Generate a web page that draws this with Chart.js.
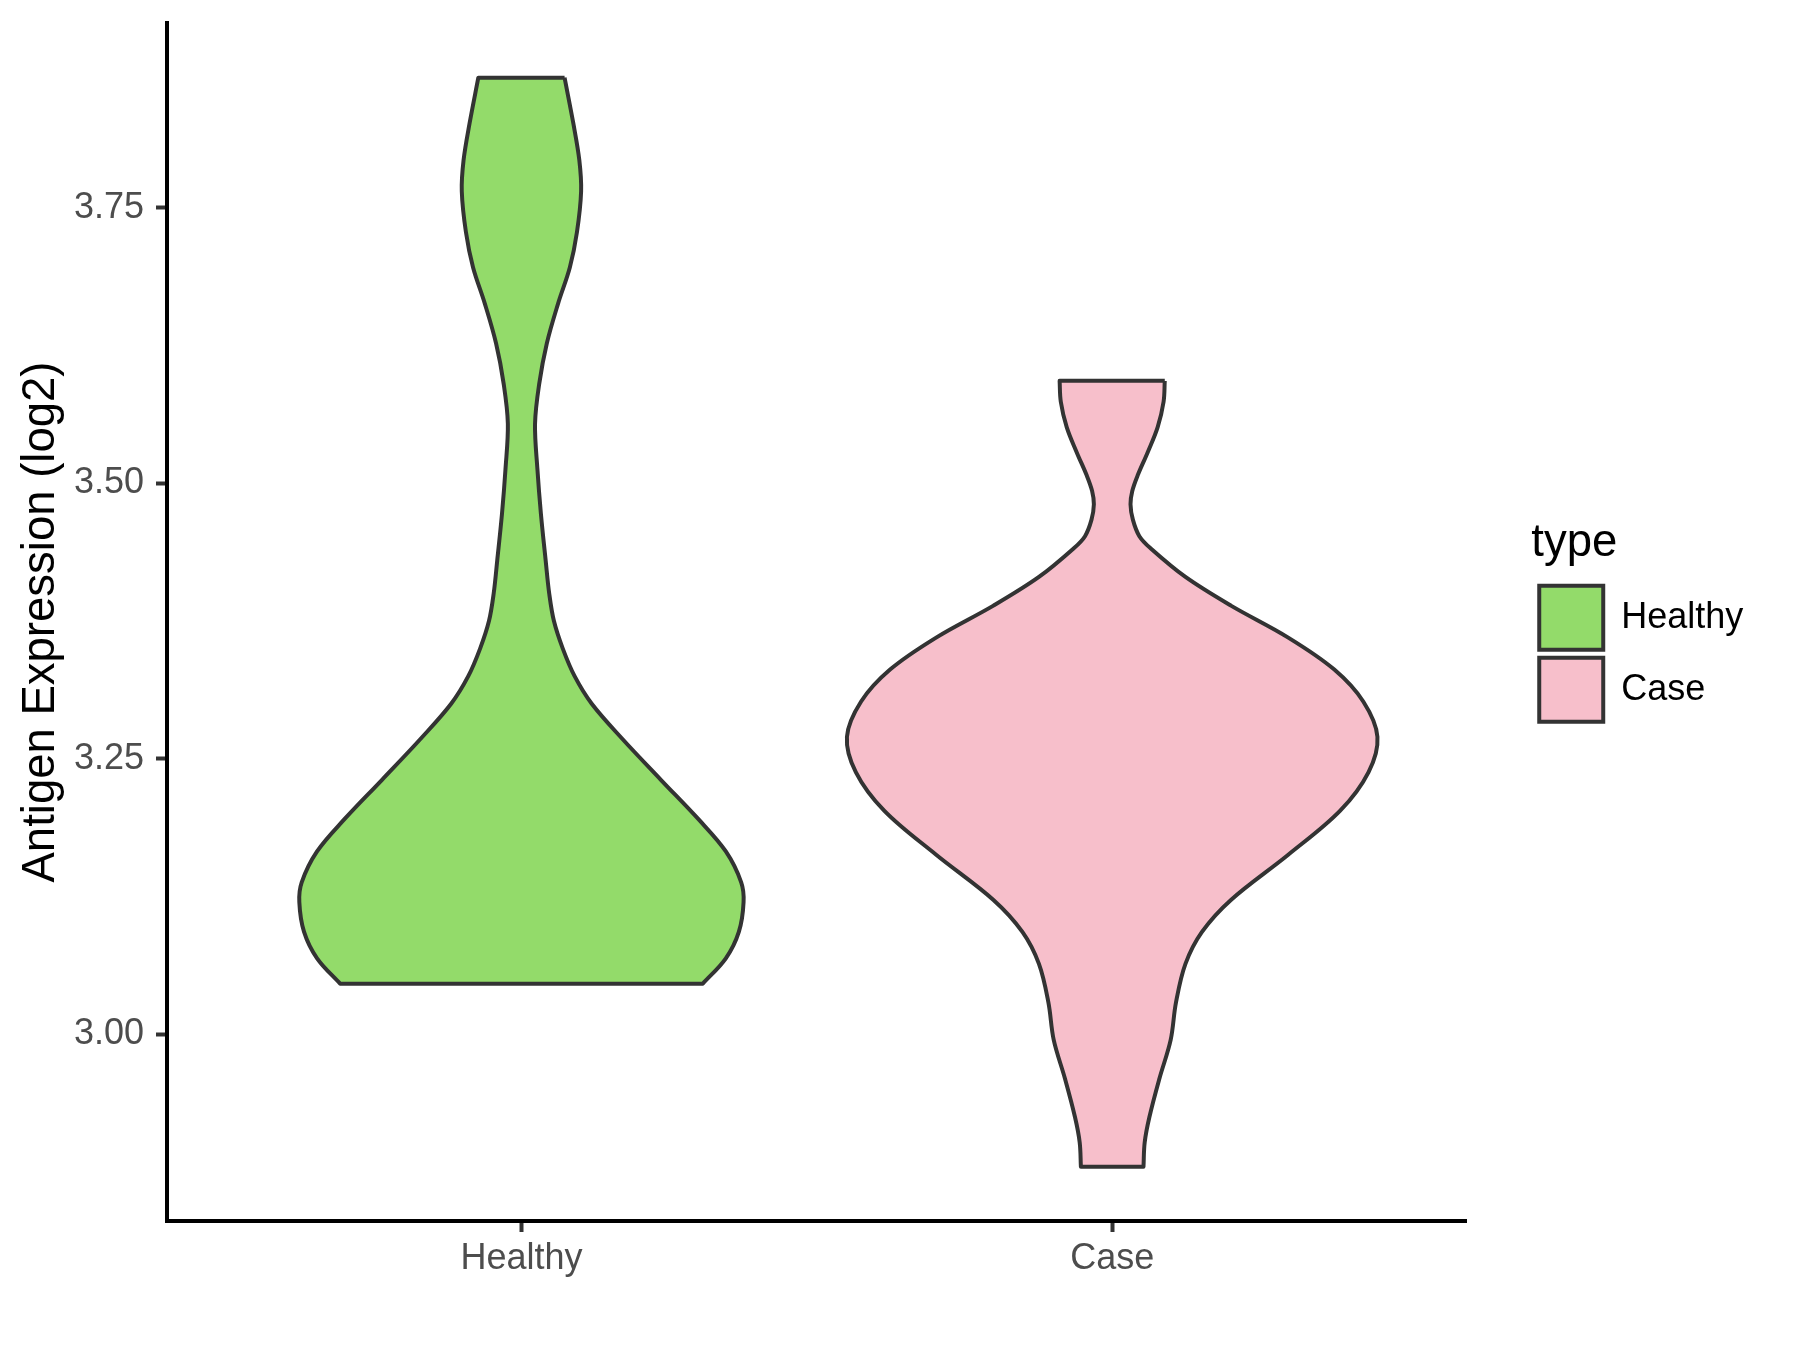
<!DOCTYPE html>
<html>
<head>
<meta charset="utf-8">
<script src="https://cdn.jsdelivr.net/npm/chart.js@4.4.1/dist/chart.umd.min.js"></script>
<style>
  html, body { margin: 0; padding: 0; background: #ffffff; }
  canvas { display: block; }
</style>
</head>
<body>
<canvas id="chart" width="1800" height="1350"></canvas>
<script>
// ---- data ----
const categories = ['Healthy', 'Case'];
const yTickValues = [3.00, 3.25, 3.50, 3.75];

// violin outlines: expression value (log2) and half-width (in category units), top to bottom
const healthyValues = [3.868, 3.826, 3.793, 3.765, 3.728, 3.696, 3.663, 3.627, 3.590, 3.554, 3.513, 3.472, 3.430,
                       3.400, 3.375, 3.350, 3.325, 3.300, 3.268, 3.231, 3.195, 3.166, 3.138, 3.120, 3.093, 3.069, 3.046];
const healthyHalfWidths = [0.073, 0.088, 0.098, 0.101, 0.094, 0.082, 0.062, 0.043, 0.030, 0.023, 0.027, 0.033, 0.041,
                           0.047, 0.055, 0.070, 0.090, 0.119, 0.171, 0.236, 0.300, 0.346, 0.372, 0.376, 0.368, 0.346, 0.307];

const caseValues = [3.593, 3.574, 3.551, 3.528, 3.507, 3.493, 3.481, 3.467, 3.452, 3.441, 3.415, 3.389,
                    3.360, 3.331, 3.302, 3.270, 3.238, 3.203, 3.163, 3.122, 3.093, 3.064, 3.029, 2.995, 2.960,
                    2.925, 2.902, 2.880];
const caseHalfWidths = [0.089, 0.087, 0.077, 0.060, 0.043, 0.034, 0.031, 0.035, 0.046, 0.065, 0.124, 0.201,
                        0.298, 0.376, 0.425, 0.449, 0.434, 0.386, 0.298, 0.201, 0.152, 0.124, 0.108, 0.099, 0.080,
                        0.063, 0.055, 0.053];

const seriesValues = [healthyValues, caseValues];
const seriesHalfWidths = [healthyHalfWidths, caseHalfWidths];
const fillColors = ['#93DB6A', '#F7BFCB'];

// ---- build closed outline (corners doubled so they stay sharp) ----
function violinOutline(center, values, halfWidths) {
  const n = values.length;
  const right = values.map((v, i) => ({ x: center + halfWidths[i], y: v }));
  const left = values.map((v, i) => ({ x: center - halfWidths[i], y: v })).reverse();
  const pts = [right[0], ...right, right[n - 1], left[0], ...left, left[n - 1], right[0]];
  return pts.map(p => ({ x: p.x, y: p.y }));
}

const FONT = 'Liberation Sans, Arial, Helvetica, sans-serif';

const datasets = categories.map((name, i) => ({
  label: name,
  data: violinOutline(i + 1, seriesValues[i], seriesHalfWidths[i]),
  backgroundColor: fillColors[i],
  borderColor: '#333333',
  borderWidth: 4,
  borderJoinStyle: 'round',
  fill: 'shape',
  tension: 0.35,
  pointRadius: 0,
  pointHoverRadius: 0,
  pointHitRadius: 0
}));

function zeroPad(s) { s.paddingTop = 0; s.paddingBottom = 0; s.paddingLeft = 0; s.paddingRight = 0; }

new Chart(document.getElementById('chart'), {
  type: 'line',
  data: { datasets },
  options: {
    responsive: false,
    animation: false,
    events: [],
    layout: { padding: { top: 23, right: 46.7, bottom: 0, left: 0 } },
    scales: {
      x: {
        type: 'linear',
        min: 0.4,
        max: 2.6,
        afterBuildTicks: s => { s.ticks = categories.map((c, i) => ({ value: i + 1 })); },
        ticks: {
          callback: (v, idx) => categories[idx],
          color: '#4D4D4D',
          font: { family: FONT, size: 36 },
          padding: 5,
          autoSkip: false,
          maxRotation: 0,
          minRotation: 0
        },
        grid: { drawOnChartArea: false, drawTicks: true, tickLength: 11, tickWidth: 4, tickColor: '#333333' },
        border: { display: true, color: '#000000', width: 4 },
        afterFit: s => { s.height = 129; zeroPad(s); }
      },
      y: {
        type: 'linear',
        position: 'left',
        min: 2.8307,
        max: 3.9176,
        afterBuildTicks: s => { s.ticks = yTickValues.map(v => ({ value: v })); },
        ticks: {
          callback: v => Number(v).toFixed(2),
          color: '#4D4D4D',
          font: { family: FONT, size: 36 },
          padding: 12
        },
        grid: { drawOnChartArea: false, drawTicks: true, tickLength: 11, tickWidth: 4, tickColor: '#333333' },
        border: { display: true, color: '#000000', width: 4 },
        title: {
          display: true,
          text: 'Antigen Expression (log2)',
          color: '#000000',
          font: { family: FONT, size: 45.5 },
          padding: { top: 14, bottom: 0 }
        },
        afterFit: s => { s.width = 167; zeroPad(s); }
      },
      yGap: {
        type: 'linear',
        position: 'right',
        display: true,
        grid: { display: false },
        border: { display: false },
        ticks: { display: false },
        afterFit: s => { s.width = 64.6; zeroPad(s); }
      }
    },
    plugins: {
      tooltip: { enabled: false },
      legend: {
        display: true,
        position: 'right',
        align: 'start',
        title: {
          display: true,
          text: 'type',
          color: '#000000',
          position: 'start',
          font: { family: FONT, size: 45.5 },
          padding: { top: 497.75, bottom: 2.45 }
        },
        labels: {
          boxWidth: 64,
          boxHeight: 64,
          padding: 8,
          color: '#000000',
          font: { family: FONT, size: 36 },
          generateLabels: chart => categories.map((c, i) => ({
            text: c,
            fillStyle: fillColors[i],
            strokeStyle: '#333333',
            lineWidth: 4,
            hidden: false,
            datasetIndex: i
          }))
        }
      }
    }
  }
});
</script>
</body>
</html>
